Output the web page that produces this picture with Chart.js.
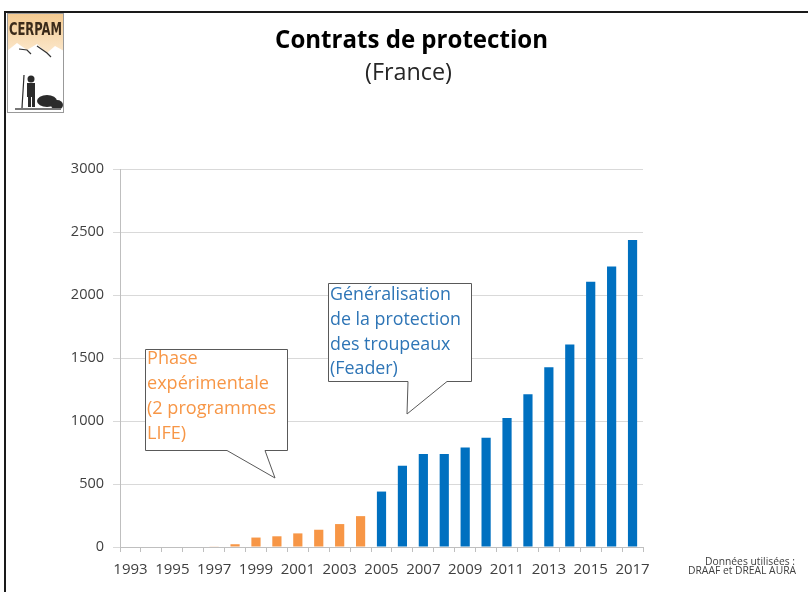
<!DOCTYPE html>
<html><head><meta charset="utf-8">
<script src="https://cdn.jsdelivr.net/npm/chart.js@4"></script>
<style>html,body{margin:0;padding:0;background:#fff;overflow:hidden}canvas{display:block}</style>
</head><body>
<canvas id="c" width="808" height="592"></canvas>
<script>
// ---- data ----
const years = ['1993','1994','1995','1996','1997','1998','1999','2000','2001','2002','2003','2004','2005','2006','2007','2008','2009','2010','2011','2012','2013','2014','2015','2016','2017'];
const experimentalValues = [0,0,0,0,5,22,75,85,108,137,182,245,null,null,null,null,null,null,null,null,null,null,null,null,null];
const feaderValues = [null,null,null,null,null,null,null,null,null,null,null,null,440,645,738,738,790,868,1024,1212,1426,1608,2106,2227,2436];
const yTickValues = [0,500,1000,1500,2000,2500,3000];
const titleText = 'Contrats de protection';
const subtitleText = '(France)';
const orangeNote = ['Phase','expérimentale','(2 programmes','LIFE)'];
const blueNote = ['Généralisation','de la protection','des troupeaux','(Feader)'];
const sourceNote = ['Données utilisées :','DRAAF et DREAL AURA'];

const BLUE = '#0070C0', ORANGE = '#F79646';
const FONT = '"Open Sans", "Noto Sans", sans-serif';

function fitSize(ctx, text, width, weight) {
  ctx.font = weight + ' 100px ' + FONT;
  return 100 * width / ctx.measureText(text).width;
}

function callout(ctx, box, tail, lines, color, textX, firstY, lh, fitText, fitW) {
  ctx.save();
  ctx.beginPath();
  ctx.moveTo(box.l, box.t);
  ctx.lineTo(box.r, box.t);
  ctx.lineTo(box.r, box.b);
  ctx.lineTo(tail.b2, box.b);
  ctx.lineTo(tail.x, tail.y);
  ctx.lineTo(tail.b1, box.b);
  ctx.lineTo(box.l, box.b);
  ctx.closePath();
  ctx.fillStyle = '#fff';
  ctx.fill();
  ctx.strokeStyle = '#595959';
  ctx.lineWidth = 1;
  ctx.stroke();
  const s = fitSize(ctx, fitText, fitW, 'normal');
  ctx.font = 'normal ' + s + 'px ' + FONT;
  ctx.fillStyle = color;
  ctx.textBaseline = 'middle';
  ctx.textAlign = 'left';
  lines.forEach((t, i) => ctx.fillText(t, textX, firstY + i * lh));
  ctx.restore();
}

function drawLogo(ctx) {
  ctx.save();
  const x = 7, y = 13, w = 57, h = 100;
  ctx.fillStyle = '#fff';
  ctx.fillRect(x, y, w, h);
  const g = ctx.createLinearGradient(0, y, 0, y + 38);
  g.addColorStop(0, '#F3C98F');
  g.addColorStop(1, '#FBE6C8');
  ctx.fillStyle = g;
  ctx.beginPath();
  ctx.moveTo(x, y);
  ctx.lineTo(x + w, y);
  ctx.lineTo(x + w, y + 38);
  ctx.lineTo(x + 48, y + 33);
  ctx.lineTo(x + 40, y + 40);
  ctx.lineTo(x + 30, y + 31);
  ctx.lineTo(x + 20, y + 37);
  ctx.lineTo(x + 10, y + 30);
  ctx.lineTo(x, y + 38);
  ctx.closePath();
  ctx.fill();
  ctx.strokeStyle = '#333';
  ctx.lineWidth = 1.2;
  ctx.beginPath();
  ctx.moveTo(x + 12, y + 36); ctx.lineTo(x + 20, y + 37); ctx.lineTo(x + 24, y + 41);
  ctx.moveTo(x + 30, y + 33); ctx.lineTo(x + 40, y + 40); ctx.lineTo(x + 44, y + 44);
  ctx.stroke();
  ctx.fillStyle = '#3a2a1a';
  ctx.textBaseline = 'alphabetic';
  ctx.textAlign = 'left';
  ctx.font = 'bold 14px "DejaVu Sans Condensed", "Liberation Sans Narrow", sans-serif';
  const tw = ctx.measureText('CERPAM').width;
  ctx.save();
  ctx.translate(x + 2, y + 22);
  ctx.scale(53 / tw, 1.25);
  ctx.fillText('CERPAM', 0, 0);
  ctx.restore();
  ctx.fillStyle = '#2b2b2b';
  ctx.beginPath(); ctx.arc(x + 24, y + 66, 3.5, 0, Math.PI * 2); ctx.fill();
  ctx.fillRect(x + 20, y + 70, 8, 14);
  ctx.fillRect(x + 21, y + 84, 3, 10);
  ctx.fillRect(x + 25, y + 84, 3, 10);
  ctx.strokeStyle = '#2b2b2b';
  ctx.lineWidth = 1.2;
  ctx.beginPath(); ctx.moveTo(x + 17, y + 62); ctx.lineTo(x + 15, y + 95); ctx.stroke();
  ctx.beginPath(); ctx.ellipse(x + 40, y + 88, 10, 6, 0, 0, Math.PI * 2); ctx.fill();
  ctx.beginPath(); ctx.ellipse(x + 50, y + 92, 6, 5, 0, 0, Math.PI * 2); ctx.fill();
  ctx.fillStyle = '#777';
  ctx.fillRect(x + 8, y + 95, 46, 2);
  ctx.strokeStyle = '#999';
  ctx.lineWidth = 1;
  ctx.strokeRect(x + 0.5, y + 0.5, w - 1, h - 1);
  ctx.restore();
}

const decor = {
  id: 'decor',
  beforeDraw(chart) {
    const ctx = chart.ctx;
    ctx.save();
    ctx.fillStyle = '#fff';
    ctx.fillRect(0, 0, chart.width, chart.height);
    ctx.strokeStyle = '#1a1a1a';
    ctx.lineWidth = 2;
    ctx.beginPath();
    ctx.moveTo(808, 12); ctx.lineTo(5, 12); ctx.lineTo(5, 592);
    ctx.stroke();
    ctx.restore();
    drawLogo(ctx);
    ctx.save();
    ctx.fillStyle = '#000';
    ctx.textAlign = 'center';
    ctx.textBaseline = 'alphabetic';
    let s = fitSize(ctx, titleText, 273, 'bold');
    ctx.font = 'bold ' + s + 'px ' + FONT;
    ctx.fillText(titleText, 411.5, 48);
    s = fitSize(ctx, subtitleText, 87, 'normal');
    ctx.font = 'normal ' + s + 'px ' + FONT;
    ctx.fillStyle = '#262626';
    ctx.fillText(subtitleText, 408.5, 80);
    ctx.fillStyle = '#404040';
    s = fitSize(ctx, sourceNote[1], 108, 'normal');
    ctx.font = 'normal ' + s + 'px ' + FONT;
    ctx.textBaseline = 'middle';
    ctx.textAlign = 'right';
    ctx.fillText(sourceNote[0], 795, 562);
    ctx.fillText(sourceNote[1], 796, 571);
    ctx.restore();
  },
  afterDraw(chart) {
    const ctx = chart.ctx;
    callout(ctx, {l: 145.5, t: 349.5, r: 287.5, b: 450.5}, {b1: 227, b2: 265, x: 275, y: 478},
      orangeNote, ORANGE, 147, 359, 25, 'expérimentale', 122);
    callout(ctx, {l: 328.5, t: 283.5, r: 471.5, b: 381.5}, {b1: 408, b2: 447, x: 407, y: 414},
      blueNote, '#2E75B6', 330, 295, 24.8, 'de la protection', 131);
  }
};

new Chart(document.getElementById('c'), {
  type: 'bar',
  data: {
    labels: years,
    datasets: [
      {label: 'Phase expérimentale', data: experimentalValues, backgroundColor: ORANGE, barPercentage: 0.44, categoryPercentage: 1},
      {label: 'Feader', data: feaderValues, backgroundColor: BLUE, barPercentage: 0.44, categoryPercentage: 1}
    ]
  },
  options: {
    responsive: false,
    animation: false,
    events: [],
    layout: {padding: {left: 0, right: 165, top: 169, bottom: 0}},
    plugins: {legend: {display: false}, tooltip: {enabled: false}, title: {display: false}},
    scales: {
      x: {
        stacked: true,
        afterFit(s) { s.height = 45; },
        grid: {drawOnChartArea: false, drawTicks: true, tickLength: 5, color: '#BFBFBF', offset: true},
        border: {display: true, color: '#BFBFBF'},
        ticks: {
          autoSkip: false, maxRotation: 0, minRotation: 0, padding: 9,
          color: '#404040', font: {family: FONT, size: 15},
          callback: (v, i) => (i % 2 === 0 ? years[i] : '')
        }
      },
      y: {
        stacked: true,
        min: 0, max: 3000,
        afterFit(s) { s.width = 120; },
        afterBuildTicks(s) { s.ticks = yTickValues.map(v => ({value: v})); },
        grid: {color: '#D9D9D9', tickLength: 7, drawTicks: true},
        border: {display: true, color: '#BFBFBF'},
        ticks: {padding: 9, color: '#404040', font: {family: FONT, size: 14.5}, callback: v => String(v)}
      }
    }
  },
  plugins: [decor]
});
</script>
</body></html>
